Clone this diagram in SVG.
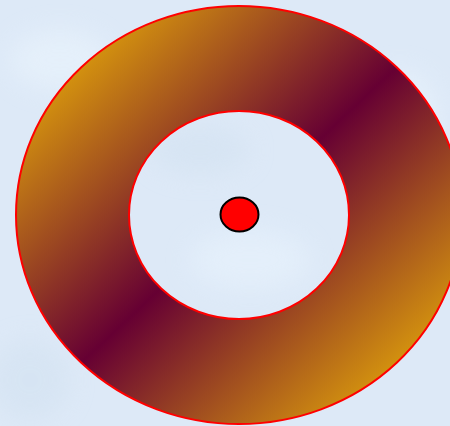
<svg xmlns="http://www.w3.org/2000/svg" width="450" height="426" viewBox="0 0 450 426">
  <defs>
    <linearGradient id="ringGrad" x1="0" y1="0" x2="1" y2="1">
      <stop offset="0" stop-color="#ffcc00"/>
      <stop offset="0.5" stop-color="#660033"/>
      <stop offset="1" stop-color="#ffcc00"/>
    </linearGradient>
    <filter id="blur" x="-20%" y="-20%" width="140%" height="140%">
      <feGaussianBlur stdDeviation="12"/>
    </filter>
  </defs>
  <style>
    .ring { fill: url(#ringGrad); stroke: #ff0000; stroke-width: 2; fill-rule: evenodd; }
    .dot { fill: #ff0000; stroke: #000000; stroke-width: 2; }
  </style>
  <rect x="0" y="0" width="450" height="426" fill="#dde9f7"/>
  <g filter="url(#blur)" opacity="0.6">
    <ellipse cx="60" cy="60" rx="50" ry="30" fill="#eaf4fd"/>
    <ellipse cx="400" cy="120" rx="40" ry="50" fill="#eaf4fd"/>
    <ellipse cx="250" cy="260" rx="60" ry="30" fill="#e8f3fd"/>
    <ellipse cx="200" cy="150" rx="50" ry="25" fill="#d3e2f1"/>
    <ellipse cx="30" cy="380" rx="40" ry="40" fill="#d3e2f1"/>
  </g>
  <g id="ring">
    <path class="ring" d="M16,215 A223,209 0 1,0 462,215 A223,209 0 1,0 16,215 Z M129,215 A110,104 0 1,1 349,215 A110,104 0 1,1 129,215 Z"/>
  </g>
  <g id="center">
    <ellipse class="dot" cx="239.5" cy="214.5" rx="19" ry="17"/>
  </g>
  <g id="connectors"/>
</svg>
